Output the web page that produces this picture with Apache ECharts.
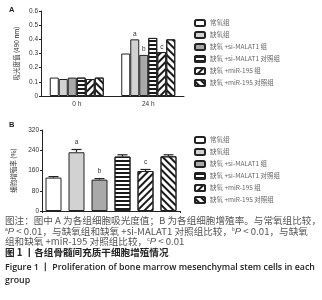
<!DOCTYPE html>
<html>
<head>
<meta charset="utf-8">
<script src="https://cdn.jsdelivr.net/npm/echarts@6/dist/echarts.min.js"></script>
<style>
  html, body { margin: 0; padding: 0; background: #fff; }
  #chart { width: 322px; height: 300px; }
</style>
</head>
<body>
<div id="chart"></div>
<script>
// 组别
const groupNames = ['常氧组', '缺氧组', '缺氧 +si-MALAT1 组', '缺氧 +si-MALAT1 对照组', '缺氧 +miR-195 组', '缺氧 +miR-195 对照组']
const timeLabels = ['0 h', '24 h']
// A: 吸光度值
const absorb0h = [0.13, 0.12, 0.13, 0.13, 0.12, 0.13]
const absorb24h = [0.30, 0.40, 0.29, 0.41, 0.31, 0.40]
const sigA = ['', 'a', 'b', '', 'c', '']
// B: 细胞增殖率
const prolif = [132, 232, 124, 215, 158, 216]
const prolifErr = [4, 11, 4, 7, 6, 6]
const sigB = ['', 'a', 'b', '', 'c', '']

const FONT = '"Liberation Sans", "Noto Sans CJK SC", sans-serif'
const CJK = '"Noto Sans CJK SC", sans-serif'

const stripe = (rotation, gap) => ({
  symbol: 'rect',
  symbolSize: 1,
  dashArrayX: [1, 0],
  dashArrayY: [1.6, gap],
  rotation: rotation,
  color: '#1a1a1a'
})
const fills = ['#ffffff', '#d2d2d2', '#a9a9a9', '#ffffff', '#ffffff', '#ffffff']
const decals = [null, null, null, stripe(0, 1.4), stripe(-Math.PI / 4, 2.2), stripe(Math.PI / 4, 2.2)]

const chartDom = document.getElementById('chart')
const myChart = echarts.init(chartDom, null, { renderer: 'canvas' })

const axisCommon = {
  axisLine: { show: true, lineStyle: { color: '#222', width: 1 } },
  axisTick: { show: true, length: 2, lineStyle: { color: '#222' } },
  axisLabel: { color: '#333', fontSize: 6.5, fontFamily: FONT, margin: 3 },
  splitLine: { show: false }
}

const itemStyleOf = (i) => {
  const s = { color: fills[i], borderColor: '#222', borderWidth: 1 }
  if (decals[i]) s.decal = decals[i]
  return s
}

const seriesA = groupNames.map((name, i) => ({
  name: name,
  type: 'bar',
  xAxisIndex: 0,
  yAxisIndex: 0,
  barWidth: 9,
  barGap: '0%',
  data: [absorb0h[i], absorb24h[i]],
  itemStyle: itemStyleOf(i),
  label: {
    show: true,
    position: 'top',
    distance: 2,
    fontSize: 6.5,
    color: '#333',
    fontFamily: FONT,
    formatter: (p) => (p.dataIndex === 1 ? sigA[i] : '')
  }
}))

const seriesB = groupNames.map((name, i) => ({
  name: name,
  type: 'bar',
  xAxisIndex: 1,
  yAxisIndex: 1,
  stack: 'b',
  barWidth: 16,
  data: prolif.map((v, j) => (j === i ? v : '-')),
  itemStyle: itemStyleOf(i)
}))

// 误差线和显著性标记
const errorB = {
  type: 'custom',
  xAxisIndex: 1,
  yAxisIndex: 1,
  silent: true,
  data: prolif.map((v, j) => [j, v, prolifErr[j]]),
  renderItem: (params, api) => {
    const i = api.value(0)
    const v = api.value(1)
    const e = api.value(2)
    const base = api.coord([i, v])
    const top = api.coord([i, v + e])
    const half = 5
    return {
      type: 'group',
      children: [
        { type: 'line', shape: { x1: base[0], y1: base[1], x2: top[0], y2: top[1] }, style: { stroke: '#222', lineWidth: 1.2 } },
        { type: 'line', shape: { x1: top[0] - half, y1: top[1], x2: top[0] + half, y2: top[1] }, style: { stroke: '#222', lineWidth: 1.2 } },
        {
          type: 'text',
          style: {
            text: sigB[i],
            x: top[0],
            y: top[1] - 4,
            align: 'center',
            verticalAlign: 'bottom',
            fontSize: 6.5,
            fontFamily: FONT,
            fill: '#333'
          }
        }
      ]
    }
  }
}

const legendCommon = {
  orient: 'vertical',
  left: 189,
  itemWidth: 10,
  itemHeight: 6,
  itemGap: 4,
  icon: 'roundRect',
  selectedMode: false,
  textStyle: { fontSize: 6.5, color: '#666', fontFamily: CJK },
  data: groupNames
}

const captionRich = {
  sup: { fontSize: 5, verticalAlign: 'top', fill: '#555', fontFamily: FONT, padding: [0, 0, 4, 0] },
  it: { fontStyle: 'italic', fontSize: 9.6, fill: '#555', fontFamily: FONT }
}
const capText = (text, y, extra) => ({
  type: 'text',
  left: 5,
  top: y,
  style: Object.assign({
    text: text,
    fontSize: 9.6,
    fontFamily: CJK,
    fill: '#555',
    rich: captionRich
  }, extra || {})
})

const option = {
  animation: false,
  grid: [
    { left: 41, top: 11, width: 143, height: 85 },
    { left: 42, top: 130, width: 138, height: 81 }
  ],
  legend: [
    Object.assign({ top: 14 }, legendCommon),
    Object.assign({ top: 131 }, legendCommon)
  ],
  xAxis: [
    Object.assign({}, axisCommon, {
      gridIndex: 0,
      type: 'category',
      data: timeLabels,
      axisTick: { show: false },
      axisLabel: Object.assign({}, axisCommon.axisLabel, { margin: 5 })
    }),
    Object.assign({}, axisCommon, {
      gridIndex: 1,
      type: 'category',
      data: groupNames,
      axisTick: { show: true, length: 2, interval: (idx) => idx === 3, lineStyle: { color: '#222' } },
      axisLabel: { show: false }
    })
  ],
  yAxis: [
    Object.assign({}, axisCommon, {
      gridIndex: 0,
      type: 'value',
      min: 0,
      max: 0.6,
      interval: 0.1,
      name: '吸光度值 (490 nm)',
      nameLocation: 'middle',
      nameRotate: 90,
      nameGap: 21,
      nameTextStyle: { fontSize: 6.5, color: '#333', fontFamily: CJK }
    }),
    Object.assign({}, axisCommon, {
      gridIndex: 1,
      type: 'value',
      min: 0,
      max: 320,
      interval: 80,
      name: '细胞增殖率 (%)',
      nameLocation: 'middle',
      nameRotate: 90,
      nameGap: 25,
      nameTextStyle: { fontSize: 6.5, color: '#333', fontFamily: CJK }
    })
  ],
  graphic: [
    { type: 'text', left: 9, top: 6, style: { text: 'A', fontSize: 7.5, fontWeight: 'bold', fill: '#222', fontFamily: FONT } },
    { type: 'text', left: 9, top: 121, style: { text: 'B', fontSize: 7.5, fontWeight: 'bold', fill: '#222', fontFamily: FONT } },
    capText('图注：图中 A 为各组细胞吸光度值；B 为各组细胞增殖率。与常氧组比较，', 216),
    capText('{sup|a}{it|P} < 0.01，与缺氧组和缺氧 +si-MALAT1 对照组比较，{sup|b}{it|P} < 0.01，与缺氧', 227),
    capText('组和缺氧 +miR-195 对照组比较，{sup|c}{it|P} < 0.01', 237),
    capText('图 1 丨各组骨髓间充质干细胞增殖情况', 248, { fill: '#222', fontWeight: 'bold' }),
    capText('Figure 1 丨 Proliferation of bone marrow mesenchymal stem cells in each', 263, { fill: '#222', fontWeight: '600', fontSize: 8.8, fontFamily: '"Open Sans", sans-serif' }),
    capText('group', 276, { fill: '#222', fontWeight: '600', fontSize: 8.8, fontFamily: '"Open Sans", sans-serif' })
  ],
  series: seriesA.concat(seriesB, [errorB])
}
option && myChart.setOption(option)
</script>
</body>
</html>
